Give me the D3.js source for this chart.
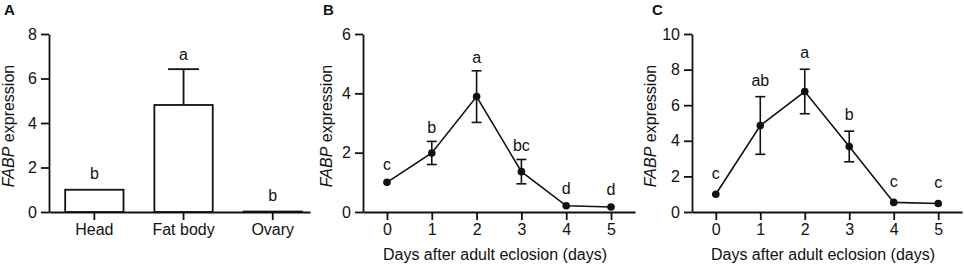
<!DOCTYPE html>
<html>
<head>
<meta charset="utf-8">
<script src="https://cdn.jsdelivr.net/npm/d3@7"></script>
<style>
  body { margin: 0; background: #fff; }
  svg { display: block; font-family: "Liberation Sans", Arial, sans-serif; }
  .axis path, .axis line { stroke: #111; stroke-width: 1.8px; }
  .axis text { font-size: 16px; fill: #111; }
</style>
</head>
<body>
<svg id="chart"></svg>
<script>
// panel A: tissues
let tissues = ["Head", "Fat body", "Ovary"];
let tissueMean = [1.0, 4.81, 0.02];
let tissueErr = [0, 1.61, 0];
let tissueLetters = ["b", "a", "b"];

// panels B and C: days after eclosion
let days = [0, 1, 2, 3, 4, 5];
let meanB = [1.0, 1.99, 3.89, 1.36, 0.21, 0.17];
let errB = [0, 0.39, 0.87, 0.41, 0, 0];
let lettersB = ["c", "b", "a", "bc", "d", "d"];
let meanC = [1.0, 4.86, 6.77, 3.68, 0.54, 0.48];
let errC = [0, 1.62, 1.25, 0.86, 0, 0];
let lettersC = ["c", "ab", "a", "b", "c", "c"];

let ticksA = [0, 2, 4, 6, 8];
let ticksB = [0, 2, 4, 6];
let ticksC = [0, 2, 4, 6, 8, 10];

let w = 964, h = 267;
let svg = d3.select("#chart").attr("width", w).attr("height", h);

function yTitle(g, x, y) {
    let t = g.append("text")
        .attr("transform", `translate(${x},${y}) rotate(-90)`)
        .attr("text-anchor", "middle")
        .style("font-size", "16px")
        .attr("fill", "#111");
    t.append("tspan").style("font-style", "italic").text("FABP");
    t.append("tspan").text(" expression");
}

function panelLabel(x, txt) {
    svg.append("text").attr("x", x).attr("y", 15)
        .style("font-size", "15px").style("font-weight", "bold")
        .attr("fill", "#111").text(txt);
}

function drawY(y, x0, ticks) {
    svg.append("g").attr("class", "axis")
        .attr("transform", `translate(${x0},0)`)
        .call(d3.axisLeft(y).tickValues(ticks).tickFormat(d3.format("d"))
            .tickSize(8).tickSizeOuter(0).tickPadding(4));
}

// ---- panel A
let yA = d3.scaleLinear().domain([0, 8]).range([212, 34]);
let xA = d3.scaleBand().domain(tissues).range([49, 310])
    .paddingInner(0.346).paddingOuter(0.136).align(0.667);

svg.selectAll(".bar")
    .data(tissues)
    .enter()
    .append("rect")
    .attr("x", d => xA(d))
    .attr("width", xA.bandwidth())
    .attr("y", (d, i) => yA(tissueMean[i]))
    .attr("height", (d, i) => yA(0) - yA(tissueMean[i]))
    .attr("fill", "#fff").attr("stroke", "#111").attr("stroke-width", 1.8);

tissues.forEach((d, i) => {
    let cx = xA(d) + xA.bandwidth() / 2;
    let top = yA(tissueMean[i] + tissueErr[i]);
    if (tissueErr[i] > 0) {
        svg.append("line").attr("x1", cx).attr("x2", cx)
            .attr("y1", yA(tissueMean[i])).attr("y2", top)
            .attr("stroke", "#111").attr("stroke-width", 1.8);
        svg.append("line").attr("x1", cx - 15.5).attr("x2", cx + 15.5)
            .attr("y1", top).attr("y2", top)
            .attr("stroke", "#111").attr("stroke-width", 1.8);
    }
    svg.append("text").attr("x", cx).attr("y", top - (tissueErr[i] > 0 ? 9 : 11))
        .attr("text-anchor", "middle").style("font-size", "16px")
        .attr("fill", "#111").text(tissueLetters[i]);
});

drawY(yA, 49, ticksA);
svg.append("g").attr("class", "axis")
    .attr("transform", `translate(0,${yA(0)})`)
    .call(d3.axisBottom(xA).tickSize(8).tickSizeOuter(0).tickPadding(4));
yTitle(svg, 14, 126);
panelLabel(4, "A");

// ---- panels B and C
function linePanel(x0, x1, ymax, ticks, means, errs, letters, gap, lbl, titleX) {
    let y = d3.scaleLinear().domain([0, ymax]).range([212, 34]);
    let x = d3.scaleLinear().domain([-0.535, 5.535]).range([x0, x1]);

    let line = d3.line().x((d, i) => x(days[i])).y(d => y(d));
    svg.append("path").datum(means).attr("d", line)
        .attr("fill", "none").attr("stroke", "#111").attr("stroke-width", 1.6);

    days.forEach((d, i) => {
        let cx = x(d);
        if (errs[i] > 0) {
            let t = y(means[i] + errs[i]), b = y(means[i] - errs[i]);
            svg.append("line").attr("x1", cx).attr("x2", cx).attr("y1", t).attr("y2", b)
                .attr("stroke", "#111").attr("stroke-width", 1.6);
            [t, b].forEach(v => {
                svg.append("line").attr("x1", cx - 5).attr("x2", cx + 5).attr("y1", v).attr("y2", v)
                    .attr("stroke", "#111").attr("stroke-width", 1.6);
            });
        }
        let top = errs[i] > 0 ? y(means[i] + errs[i]) : y(means[i]) - 4;
        svg.append("text").attr("x", cx).attr("y", top - gap)
            .attr("text-anchor", "middle").style("font-size", "16px")
            .attr("fill", "#111").text(letters[i]);
    });

    svg.selectAll(".pt" + lbl)
        .data(means)
        .enter()
        .append("circle")
        .attr("cx", (d, i) => x(days[i]))
        .attr("cy", d => y(d))
        .attr("r", 3.8)
        .attr("fill", "#111");

    drawY(y, x0, ticks);
    svg.append("g").attr("class", "axis")
        .attr("transform", `translate(0,${y(0)})`)
        .call(d3.axisBottom(x).tickValues(days).tickFormat(d3.format("d"))
            .tickSize(8).tickSizeOuter(0).tickPadding(4));

    svg.append("text").attr("x", x(2.5) - 4).attr("y", 260)
        .attr("text-anchor", "middle").style("font-size", "16px")
        .attr("fill", "#111").text("Days after adult eclosion (days)");
    yTitle(svg, titleX, 126);
    panelLabel(x0 - 40, lbl);
}

linePanel(363, 635, 6, ticksB, meanB, errB, lettersB, 8, "B", 332);
linePanel(692, 962, 10, ticksC, meanC, errC, lettersC, 11, "C", 656);
</script>
</body>
</html>
